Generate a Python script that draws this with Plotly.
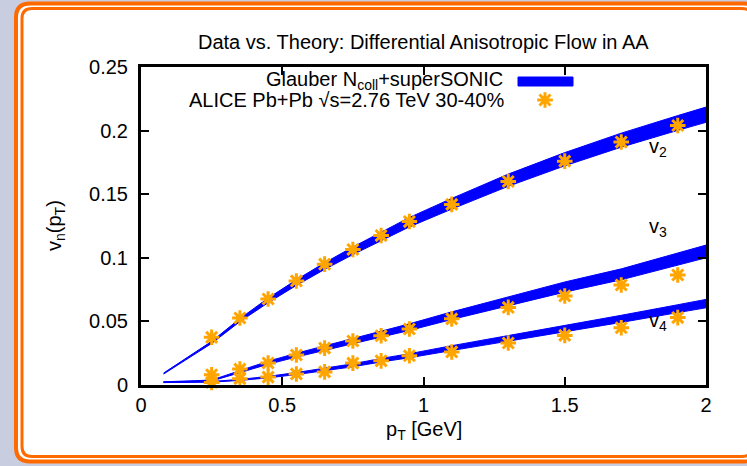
import plotly.graph_objects as go

# ---------------- data ----------------
theory_pt = [0.08, 0.25, 0.35, 0.45, 0.55, 0.65, 0.75, 0.85, 0.95, 1.1, 1.3, 1.5, 1.7, 1.9, 2.0]
v2_th = [0.009, 0.0335, 0.051, 0.0665, 0.0805, 0.0935, 0.1055, 0.117, 0.128, 0.1425, 0.161, 0.1775, 0.1925, 0.206, 0.2125]
v2_hw = [0.0004, 0.0008, 0.0012, 0.0018, 0.0022, 0.0026, 0.003, 0.0034, 0.0037, 0.0042, 0.0048, 0.0052, 0.0055, 0.0058, 0.006]
v3_th = [0.0022, 0.0035, 0.0105, 0.0175, 0.0235, 0.029, 0.0345, 0.040, 0.0455, 0.0545, 0.066, 0.077, 0.087, 0.099, 0.105]
v3_hw = [0.0003, 0.0004, 0.0008, 0.0012, 0.0015, 0.0018, 0.002, 0.0023, 0.0026, 0.003, 0.0035, 0.004, 0.0043, 0.0048, 0.005]
v4_th = [0.0022, 0.0025, 0.004, 0.0062, 0.009, 0.012, 0.0155, 0.0195, 0.023, 0.029, 0.0365, 0.044, 0.052, 0.060, 0.064]
v4_hw = [0.0003, 0.0003, 0.0004, 0.0006, 0.0008, 0.001, 0.0012, 0.0014, 0.0016, 0.0019, 0.0022, 0.0025, 0.0028, 0.0031, 0.0033]

alice_pt = [0.25, 0.35, 0.45, 0.55, 0.65, 0.75, 0.85, 0.95, 1.1, 1.3, 1.5, 1.7, 1.9]
alice_v2 = [0.0375, 0.0527, 0.0676, 0.0818, 0.095, 0.1065, 0.1175, 0.1285, 0.142, 0.160, 0.176, 0.191, 0.204]
alice_v3 = [0.008, 0.0125, 0.0173, 0.0236, 0.029, 0.0346, 0.0387, 0.044, 0.052, 0.061, 0.070, 0.0786, 0.0865]
alice_v4 = [0.002, 0.005, 0.0062, 0.0087, 0.0103, 0.0172, 0.019, 0.023, 0.026, 0.033, 0.039, 0.045, 0.053]

x_ticks = [0, 0.5, 1, 1.5, 2]
x_tick_text = ["0", "0.5", "1", "1.5", "2"]
y_ticks = [0, 0.05, 0.1, 0.15, 0.2, 0.25]
y_tick_text = ["0", "0.05", "0.1", "0.15", "0.2", "0.25"]

title_text = "Data vs. Theory: Differential Anisotropic Flow in AA"
theory_label = "Glauber N<sub>coll</sub>+superSONIC"
data_label = "ALICE Pb+Pb √s=2.76 TeV 30-40%"

# ---------------- layout geometry ----------------
W, H = 747, 466
L, R, T, B = 141, 41, 67, 81
PW, PH = W - L - R, H - T - B

def px(xp):
    return (xp - L) / PW

def py(yp):
    return (H - B - yp) / PH

FONT = "Liberation Sans, Arial, Helvetica, sans-serif"
BLUE = "#0000ff"
ORANGE = "#ffa500"
FS = 20

fig = go.Figure()

for center, hw in [(v2_th, v2_hw), (v3_th, v3_hw), (v4_th, v4_hw)]:
    lo = [c - h for c, h in zip(center, hw)]
    hi = [c + h for c, h in zip(center, hw)]
    fig.add_trace(go.Scatter(x=theory_pt, y=lo, mode="lines",
                             line=dict(color=BLUE, width=1), showlegend=False,
                             hoverinfo="skip"))
    fig.add_trace(go.Scatter(x=theory_pt, y=hi, mode="lines", fill="tonexty",
                             fillcolor=BLUE, line=dict(color=BLUE, width=1),
                             showlegend=False, hoverinfo="skip"))

marker_style = dict(symbol="asterisk-open", size=13, color=ORANGE,
                    line=dict(color=ORANGE, width=3))

for vals in [alice_v2, alice_v3, alice_v4]:
    fig.add_trace(go.Scatter(x=alice_pt, y=vals, mode="markers", cliponaxis=False,
                             marker=marker_style, showlegend=False))

# legend marker on an overlay axis spanning the plot area in paper units
fig.add_trace(go.Scatter(x=[px(545)], y=[py(100)], xaxis="x2", yaxis="y2",
                         mode="markers", cliponaxis=False, showlegend=False,
                         marker=marker_style))

def rounded_rect(x0, y0, x1, y1, r):
    pts = []
    pts.append(f"M {px(x0 + r)},{py(y0)}")
    pts.append(f"L {px(x1 - r)},{py(y0)}")
    pts.append(f"Q {px(x1)},{py(y0)} {px(x1)},{py(y0 + r)}")
    pts.append(f"L {px(x1)},{py(y1 - r)}")
    pts.append(f"Q {px(x1)},{py(y1)} {px(x1 - r)},{py(y1)}")
    pts.append(f"L {px(x0 + r)},{py(y1)}")
    pts.append(f"Q {px(x0)},{py(y1)} {px(x0)},{py(y1 - r)}")
    pts.append(f"L {px(x0)},{py(y0 + r)}")
    pts.append(f"Q {px(x0)},{py(y0)} {px(x0 + r)},{py(y0)}")
    pts.append("Z")
    return " ".join(pts)

shapes = [
    dict(type="path", xref="paper", yref="paper", layer="below",
         path=rounded_rect(16, 3.5, 758, 461.5, 14),
         fillcolor="white", line=dict(color="#ff6a00", width=4)),
    dict(type="path", xref="paper", yref="paper", layer="below",
         path=rounded_rect(22, 8.5, 752, 456.5, 10),
         fillcolor="rgba(0,0,0,0)", line=dict(color="#ff6a00", width=3)),
    # legend bar for theory
    dict(type="rect", xref="paper", yref="paper",
         x0=px(518), x1=px(573), y0=py(86), y1=py(77),
         fillcolor=BLUE, line=dict(color=BLUE, width=1)),
]

annotations = [
    dict(text=title_text, xref="paper", yref="paper", x=px(423), y=py(42),
         xanchor="center", yanchor="middle", showarrow=False,
         font=dict(size=FS, color="black", family=FONT)),
    dict(text=theory_label, xref="paper", yref="paper", x=px(505), y=py(80),
         xanchor="right", yanchor="middle", showarrow=False,
         font=dict(size=FS, color="black", family=FONT)),
    dict(text=data_label, xref="paper", yref="paper", x=px(506), y=py(100),
         xanchor="right", yanchor="middle", showarrow=False,
         font=dict(size=FS, color="black", family=FONT)),
    dict(text="p<sub>T</sub> [GeV]", xref="paper", yref="paper", x=px(424), y=py(430),
         xanchor="center", yanchor="middle", showarrow=False,
         font=dict(size=FS, color="black", family=FONT)),
    dict(text="v<sub>n</sub>(p<sub>T</sub>)", xref="paper", yref="paper", x=px(55), y=py(226),
         xanchor="center", yanchor="middle", showarrow=False, textangle=-90,
         font=dict(size=FS, color="black", family=FONT)),
    dict(text="v<sub>2</sub>", x=1.83, y=0.187, xref="x", yref="y", showarrow=False,
         font=dict(size=FS, color="black", family=FONT)),
    dict(text="v<sub>3</sub>", x=1.83, y=0.124, xref="x", yref="y", showarrow=False,
         font=dict(size=FS, color="black", family=FONT)),
    dict(text="v<sub>4</sub>", x=1.83, y=0.050, xref="x", yref="y", showarrow=False,
         font=dict(size=FS, color="black", family=FONT)),
]

axis_common = dict(showgrid=False, zeroline=False, showline=True, linecolor="black",
                   linewidth=3, mirror="ticks", ticks="inside", ticklen=8,
                   tickwidth=1.5, tickcolor="black",
                   tickfont=dict(size=FS, color="black", family=FONT))

fig.update_layout(
    width=W, height=H,
    margin=dict(l=L, r=R, t=T, b=B, pad=0),
    paper_bgcolor="#c8cde0",
    plot_bgcolor="white",
    showlegend=False,
    xaxis=dict(range=[0, 2], tickvals=x_ticks, ticktext=x_tick_text,
               ticklabelstandoff=0, **axis_common),
    yaxis=dict(range=[0, 0.25], tickvals=y_ticks, ticktext=y_tick_text,
               ticklabelstandoff=6, **axis_common),
    xaxis2=dict(range=[0, 1], overlaying="x", visible=False, anchor="y2"),
    yaxis2=dict(range=[0, 1], overlaying="y", visible=False, anchor="x2"),
    shapes=shapes,
    annotations=annotations,
)

fig.write_html("out.html")
